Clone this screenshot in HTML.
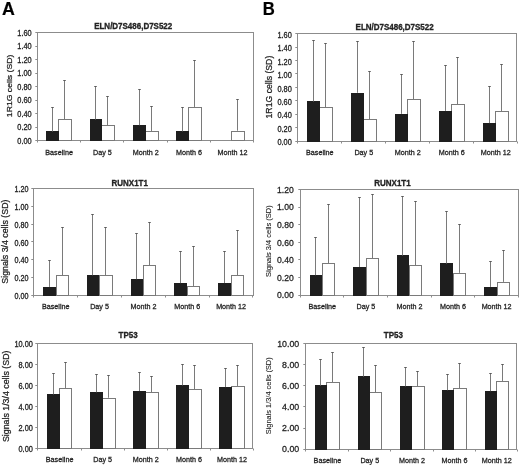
<!DOCTYPE html>
<html><head><meta charset="utf-8"><title>Figure</title>
<style>
html,body{margin:0;padding:0;background:#fff;}
body{width:520px;height:465px;overflow:hidden;font-family:"Liberation Sans", sans-serif;}
svg{display:block;will-change:transform;}
svg text{font-family:"Liberation Sans", sans-serif;stroke:#222;stroke-width:0.26px;paint-order:stroke;}
svg text.b{stroke-width:0.32px;}
svg text.t{stroke-width:0.1px;}
svg text.L{fill:#000;stroke:#000;stroke-width:0.2px;}
</style></head><body>
<svg width="520" height="465" viewBox="0 0 520 465" font-family="Liberation Sans, sans-serif" fill="#222"><rect width="520" height="465" fill="#fff"/><text transform="translate(2.1,15.1) scale(1.01,1)" font-size="17.6" font-weight="bold" class="L">A</text><text transform="translate(262.8,15) scale(0.95,1)" font-size="17.6" font-weight="bold" class="L">B</text><g id="A1"><rect x="37.5" y="32.5" width="216" height="108" fill="none" stroke="#8c8c8c"/><line x1="35.3" y1="140.5" x2="37.5" y2="140.5" stroke="#8c8c8c"/><text transform="translate(31.7,143.85) scale(1,1.15)" font-size="7.4" text-anchor="end">0.00</text><line x1="35.3" y1="127.5" x2="37.5" y2="127.5" stroke="#8c8c8c"/><text transform="translate(31.7,130.31) scale(1,1.15)" font-size="7.4" text-anchor="end">0.20</text><line x1="35.3" y1="113.5" x2="37.5" y2="113.5" stroke="#8c8c8c"/><text transform="translate(31.7,116.77) scale(1,1.15)" font-size="7.4" text-anchor="end">0.40</text><line x1="35.3" y1="100.5" x2="37.5" y2="100.5" stroke="#8c8c8c"/><text transform="translate(31.7,103.23) scale(1,1.15)" font-size="7.4" text-anchor="end">0.60</text><line x1="35.3" y1="86.5" x2="37.5" y2="86.5" stroke="#8c8c8c"/><text transform="translate(31.7,89.7) scale(1,1.15)" font-size="7.4" text-anchor="end">0.80</text><line x1="35.3" y1="73.5" x2="37.5" y2="73.5" stroke="#8c8c8c"/><text transform="translate(31.7,76.16) scale(1,1.15)" font-size="7.4" text-anchor="end">1.00</text><line x1="35.3" y1="59.5" x2="37.5" y2="59.5" stroke="#8c8c8c"/><text transform="translate(31.7,62.62) scale(1,1.15)" font-size="7.4" text-anchor="end">1.20</text><line x1="35.3" y1="46.5" x2="37.5" y2="46.5" stroke="#8c8c8c"/><text transform="translate(31.7,49.08) scale(1,1.15)" font-size="7.4" text-anchor="end">1.40</text><line x1="35.3" y1="32.5" x2="37.5" y2="32.5" stroke="#8c8c8c"/><text transform="translate(31.7,35.55) scale(1,1.15)" font-size="7.4" text-anchor="end">1.60</text><line x1="37.5" y1="140.5" x2="37.5" y2="142.5" stroke="#8c8c8c"/><line x1="80.5" y1="140.5" x2="80.5" y2="142.5" stroke="#8c8c8c"/><line x1="123.5" y1="140.5" x2="123.5" y2="142.5" stroke="#8c8c8c"/><line x1="167.5" y1="140.5" x2="167.5" y2="142.5" stroke="#8c8c8c"/><line x1="210.5" y1="140.5" x2="210.5" y2="142.5" stroke="#8c8c8c"/><line x1="253.5" y1="140.5" x2="253.5" y2="142.5" stroke="#8c8c8c"/><rect x="58.5" y="119.5" width="13" height="21" fill="#fff" stroke="#7a7a7a"/><rect x="46" y="131" width="13" height="10" fill="#1e1e1e"/><line x1="64.5" y1="119" x2="64.5" y2="80.5" stroke="#7a7a7a"/><line x1="63.25" y1="80.5" x2="65.75" y2="80.5" stroke="#5a5a5a"/><line x1="52.5" y1="131.53" x2="52.5" y2="107.5" stroke="#7a7a7a"/><line x1="51.25" y1="107.5" x2="53.75" y2="107.5" stroke="#5a5a5a"/><text transform="translate(59.1,155.1) scale(1,1.12)" font-size="7.2" text-anchor="middle">Baseline</text><rect x="101.5" y="125.5" width="13" height="15" fill="#fff" stroke="#7a7a7a"/><rect x="90" y="119" width="12" height="22" fill="#1e1e1e"/><line x1="107.5" y1="125.03" x2="107.5" y2="96.5" stroke="#7a7a7a"/><line x1="106.25" y1="96.5" x2="108.75" y2="96.5" stroke="#5a5a5a"/><line x1="95.5" y1="119.48" x2="95.5" y2="86.5" stroke="#7a7a7a"/><line x1="94.25" y1="86.5" x2="96.75" y2="86.5" stroke="#5a5a5a"/><text transform="translate(102.43,155.1) scale(1,1.12)" font-size="7.2" text-anchor="middle">Day 5</text><rect x="145.5" y="131.5" width="13" height="9" fill="#fff" stroke="#7a7a7a"/><rect x="133" y="125" width="13" height="16" fill="#1e1e1e"/><line x1="151.5" y1="130.99" x2="151.5" y2="106.5" stroke="#7a7a7a"/><line x1="150.25" y1="106.5" x2="152.75" y2="106.5" stroke="#5a5a5a"/><line x1="139.5" y1="125.23" x2="139.5" y2="89.5" stroke="#7a7a7a"/><line x1="138.25" y1="89.5" x2="140.75" y2="89.5" stroke="#5a5a5a"/><text transform="translate(145.76,155.1) scale(1,1.12)" font-size="7.2" text-anchor="middle">Month 2</text><rect x="188.5" y="107.5" width="13" height="33" fill="#fff" stroke="#7a7a7a"/><rect x="176" y="131" width="13" height="10" fill="#1e1e1e"/><line x1="194.5" y1="106.96" x2="194.5" y2="60.5" stroke="#7a7a7a"/><line x1="193.25" y1="60.5" x2="195.75" y2="60.5" stroke="#5a5a5a"/><line x1="182.5" y1="131.39" x2="182.5" y2="107.5" stroke="#7a7a7a"/><line x1="181.25" y1="107.5" x2="183.75" y2="107.5" stroke="#5a5a5a"/><text transform="translate(189.09,155.1) scale(1,1.12)" font-size="7.2" text-anchor="middle">Month 6</text><rect x="231.5" y="131.5" width="13" height="9" fill="#fff" stroke="#7a7a7a"/><line x1="237.5" y1="130.71" x2="237.5" y2="99.5" stroke="#7a7a7a"/><line x1="236.25" y1="99.5" x2="238.75" y2="99.5" stroke="#5a5a5a"/><text transform="translate(232.42,155.1) scale(1,1.12)" font-size="7.2" text-anchor="middle">Month 12</text><text transform="translate(133.2,29) scale(0.9,1)" font-size="8.88888888888889" text-anchor="middle" font-weight="bold" class="b">ELN/D7S486,D7S522</text><text transform="translate(11.7,85.9) rotate(-90) scale(1.07,1)" font-size="8.1" text-anchor="middle">1R1G cells (SD)</text></g><g id="A2"><rect x="33.5" y="188.5" width="220" height="107" fill="none" stroke="#8c8c8c"/><line x1="31.3" y1="295.5" x2="33.5" y2="295.5" stroke="#8c8c8c"/><text transform="translate(28.5,298.76) scale(1,1.15)" font-size="7.2" text-anchor="end">0.00</text><line x1="31.3" y1="277.5" x2="33.5" y2="277.5" stroke="#8c8c8c"/><text transform="translate(28.5,281.05) scale(1,1.15)" font-size="7.2" text-anchor="end">0.20</text><line x1="31.3" y1="259.5" x2="33.5" y2="259.5" stroke="#8c8c8c"/><text transform="translate(28.5,263.33) scale(1,1.15)" font-size="7.2" text-anchor="end">0.40</text><line x1="31.3" y1="241.5" x2="33.5" y2="241.5" stroke="#8c8c8c"/><text transform="translate(28.5,245.61) scale(1,1.15)" font-size="7.2" text-anchor="end">0.60</text><line x1="31.3" y1="224.5" x2="33.5" y2="224.5" stroke="#8c8c8c"/><text transform="translate(28.5,227.9) scale(1,1.15)" font-size="7.2" text-anchor="end">0.80</text><line x1="31.3" y1="206.5" x2="33.5" y2="206.5" stroke="#8c8c8c"/><text transform="translate(28.5,210.18) scale(1,1.15)" font-size="7.2" text-anchor="end">1.00</text><line x1="31.3" y1="188.5" x2="33.5" y2="188.5" stroke="#8c8c8c"/><text transform="translate(28.5,192.46) scale(1,1.15)" font-size="7.2" text-anchor="end">1.20</text><line x1="33.5" y1="295.5" x2="33.5" y2="297.5" stroke="#8c8c8c"/><line x1="77.5" y1="295.5" x2="77.5" y2="297.5" stroke="#8c8c8c"/><line x1="121.5" y1="295.5" x2="121.5" y2="297.5" stroke="#8c8c8c"/><line x1="165.5" y1="295.5" x2="165.5" y2="297.5" stroke="#8c8c8c"/><line x1="209.5" y1="295.5" x2="209.5" y2="297.5" stroke="#8c8c8c"/><line x1="252.5" y1="295.5" x2="252.5" y2="297.5" stroke="#8c8c8c"/><rect x="56.5" y="275.5" width="12" height="20" fill="#fff" stroke="#7a7a7a"/><rect x="43" y="287" width="13" height="9" fill="#1e1e1e"/><line x1="62.5" y1="275.08" x2="62.5" y2="227.5" stroke="#7a7a7a"/><line x1="61.25" y1="227.5" x2="63.75" y2="227.5" stroke="#5a5a5a"/><line x1="49.5" y1="286.95" x2="49.5" y2="260.5" stroke="#7a7a7a"/><line x1="48.25" y1="260.5" x2="50.75" y2="260.5" stroke="#5a5a5a"/><text transform="translate(55.7,308.75) scale(1,1.12)" font-size="7.2" text-anchor="middle">Baseline</text><rect x="99.5" y="275.5" width="13" height="20" fill="#fff" stroke="#7a7a7a"/><rect x="87" y="275" width="12" height="21" fill="#1e1e1e"/><line x1="105.5" y1="275.08" x2="105.5" y2="227.5" stroke="#7a7a7a"/><line x1="104.25" y1="227.5" x2="106.75" y2="227.5" stroke="#5a5a5a"/><line x1="92.5" y1="275.26" x2="92.5" y2="214.5" stroke="#7a7a7a"/><line x1="91.25" y1="214.5" x2="93.75" y2="214.5" stroke="#5a5a5a"/><text transform="translate(99.55,308.75) scale(1,1.12)" font-size="7.2" text-anchor="middle">Day 5</text><rect x="143.5" y="265.5" width="12" height="30" fill="#fff" stroke="#7a7a7a"/><rect x="131" y="279" width="12" height="17" fill="#1e1e1e"/><line x1="149.5" y1="265.42" x2="149.5" y2="222.5" stroke="#7a7a7a"/><line x1="148.25" y1="222.5" x2="150.75" y2="222.5" stroke="#5a5a5a"/><line x1="136.5" y1="279.24" x2="136.5" y2="233.5" stroke="#7a7a7a"/><line x1="135.25" y1="233.5" x2="137.75" y2="233.5" stroke="#5a5a5a"/><text transform="translate(143.4,308.75) scale(1,1.12)" font-size="7.2" text-anchor="middle">Month 2</text><rect x="187.5" y="286.5" width="12" height="9" fill="#fff" stroke="#7a7a7a"/><rect x="174" y="283" width="13" height="13" fill="#1e1e1e"/><line x1="193.5" y1="285.98" x2="193.5" y2="246.5" stroke="#7a7a7a"/><line x1="192.25" y1="246.5" x2="194.75" y2="246.5" stroke="#5a5a5a"/><line x1="180.5" y1="283.14" x2="180.5" y2="251.5" stroke="#7a7a7a"/><line x1="179.25" y1="251.5" x2="181.75" y2="251.5" stroke="#5a5a5a"/><text transform="translate(187.25,308.75) scale(1,1.12)" font-size="7.2" text-anchor="middle">Month 6</text><rect x="231.5" y="275.5" width="12" height="20" fill="#fff" stroke="#7a7a7a"/><rect x="218" y="283" width="13" height="13" fill="#1e1e1e"/><line x1="237.5" y1="275.61" x2="237.5" y2="230.5" stroke="#7a7a7a"/><line x1="236.25" y1="230.5" x2="238.75" y2="230.5" stroke="#5a5a5a"/><line x1="224.5" y1="283.05" x2="224.5" y2="251.5" stroke="#7a7a7a"/><line x1="223.25" y1="251.5" x2="225.75" y2="251.5" stroke="#5a5a5a"/><text transform="translate(231.1,308.75) scale(1,1.12)" font-size="7.2" text-anchor="middle">Month 12</text><text transform="translate(129.7,185.8) scale(0.9,1)" font-size="8.88888888888889" text-anchor="middle" font-weight="bold" class="b">RUNX1T1</text><text transform="translate(8.4,241.6) rotate(-90)" font-size="8.8" text-anchor="middle">Signals 3/4 cells (SD)</text></g><g id="A3"><rect x="37.5" y="343.5" width="215" height="105" fill="none" stroke="#8c8c8c"/><line x1="35.3" y1="448.5" x2="37.5" y2="448.5" stroke="#8c8c8c"/><text transform="translate(32.9,451.85) scale(1,1.15)" font-size="7.4" text-anchor="end">0.00</text><line x1="35.3" y1="427.5" x2="37.5" y2="427.5" stroke="#8c8c8c"/><text transform="translate(32.9,430.83) scale(1,1.15)" font-size="7.4" text-anchor="end">2.00</text><line x1="35.3" y1="406.5" x2="37.5" y2="406.5" stroke="#8c8c8c"/><text transform="translate(32.9,409.81) scale(1,1.15)" font-size="7.4" text-anchor="end">4.00</text><line x1="35.3" y1="385.5" x2="37.5" y2="385.5" stroke="#8c8c8c"/><text transform="translate(32.9,388.79) scale(1,1.15)" font-size="7.4" text-anchor="end">6.00</text><line x1="35.3" y1="364.5" x2="37.5" y2="364.5" stroke="#8c8c8c"/><text transform="translate(32.9,367.77) scale(1,1.15)" font-size="7.4" text-anchor="end">8.00</text><line x1="35.3" y1="343.5" x2="37.5" y2="343.5" stroke="#8c8c8c"/><text transform="translate(32.9,346.75) scale(1,1.15)" font-size="7.4" text-anchor="end">10.00</text><line x1="37.5" y1="448.5" x2="37.5" y2="450.5" stroke="#8c8c8c"/><line x1="81.5" y1="448.5" x2="81.5" y2="450.5" stroke="#8c8c8c"/><line x1="124.5" y1="448.5" x2="124.5" y2="450.5" stroke="#8c8c8c"/><line x1="167.5" y1="448.5" x2="167.5" y2="450.5" stroke="#8c8c8c"/><line x1="210.5" y1="448.5" x2="210.5" y2="450.5" stroke="#8c8c8c"/><line x1="253.5" y1="448.5" x2="253.5" y2="450.5" stroke="#8c8c8c"/><rect x="59.5" y="388.5" width="12" height="60" fill="#fff" stroke="#7a7a7a"/><rect x="47" y="394" width="13" height="55" fill="#1e1e1e"/><line x1="65.5" y1="387.96" x2="65.5" y2="362.5" stroke="#7a7a7a"/><line x1="64.25" y1="362.5" x2="66.75" y2="362.5" stroke="#5a5a5a"/><line x1="53.5" y1="394.37" x2="53.5" y2="373.5" stroke="#7a7a7a"/><line x1="52.25" y1="373.5" x2="54.75" y2="373.5" stroke="#5a5a5a"/><text transform="translate(59.6,462.3) scale(1,1.12)" font-size="7.2" text-anchor="middle">Baseline</text><rect x="102.5" y="398.5" width="13" height="50" fill="#fff" stroke="#7a7a7a"/><rect x="90" y="392" width="13" height="57" fill="#1e1e1e"/><line x1="108.5" y1="397.74" x2="108.5" y2="375.5" stroke="#7a7a7a"/><line x1="107.25" y1="375.5" x2="109.75" y2="375.5" stroke="#5a5a5a"/><line x1="96.5" y1="392.27" x2="96.5" y2="374.5" stroke="#7a7a7a"/><line x1="95.25" y1="374.5" x2="97.75" y2="374.5" stroke="#5a5a5a"/><text transform="translate(102.7,462.3) scale(1,1.12)" font-size="7.2" text-anchor="middle">Day 5</text><rect x="145.5" y="392.5" width="13" height="56" fill="#fff" stroke="#7a7a7a"/><rect x="133" y="391" width="13" height="58" fill="#1e1e1e"/><line x1="151.5" y1="392.38" x2="151.5" y2="376.5" stroke="#7a7a7a"/><line x1="150.25" y1="376.5" x2="152.75" y2="376.5" stroke="#5a5a5a"/><line x1="139.5" y1="391.01" x2="139.5" y2="372.5" stroke="#7a7a7a"/><line x1="138.25" y1="372.5" x2="140.75" y2="372.5" stroke="#5a5a5a"/><text transform="translate(145.8,462.3) scale(1,1.12)" font-size="7.2" text-anchor="middle">Month 2</text><rect x="188.5" y="389.5" width="13" height="59" fill="#fff" stroke="#7a7a7a"/><rect x="176" y="385" width="13" height="64" fill="#1e1e1e"/><line x1="194.5" y1="389.12" x2="194.5" y2="365.5" stroke="#7a7a7a"/><line x1="193.25" y1="365.5" x2="195.75" y2="365.5" stroke="#5a5a5a"/><line x1="182.5" y1="385.33" x2="182.5" y2="364.5" stroke="#7a7a7a"/><line x1="181.25" y1="364.5" x2="183.75" y2="364.5" stroke="#5a5a5a"/><text transform="translate(188.9,462.3) scale(1,1.12)" font-size="7.2" text-anchor="middle">Month 6</text><rect x="231.5" y="386.5" width="13" height="62" fill="#fff" stroke="#7a7a7a"/><rect x="219" y="387" width="13" height="62" fill="#1e1e1e"/><line x1="237.5" y1="385.97" x2="237.5" y2="365.5" stroke="#7a7a7a"/><line x1="236.25" y1="365.5" x2="238.75" y2="365.5" stroke="#5a5a5a"/><line x1="225.5" y1="387.12" x2="225.5" y2="368.5" stroke="#7a7a7a"/><line x1="224.25" y1="368.5" x2="226.75" y2="368.5" stroke="#5a5a5a"/><text transform="translate(232,462.3) scale(1,1.12)" font-size="7.2" text-anchor="middle">Month 12</text><text transform="translate(128.1,337.9) scale(0.9,1)" font-size="8.88888888888889" text-anchor="middle" font-weight="bold" class="b">TP53</text><text transform="translate(8.7,396.3) rotate(-90)" font-size="8.8" text-anchor="middle">Signals 1/3/4 cells (SD)</text></g><g id="B1"><rect x="297.5" y="33.5" width="219" height="108" fill="none" stroke="#8c8c8c"/><line x1="295.3" y1="141.5" x2="297.5" y2="141.5" stroke="#8c8c8c"/><text transform="translate(291.8,145.25) scale(1,1.15)" font-size="7.4" text-anchor="end">0.00</text><line x1="295.3" y1="127.5" x2="297.5" y2="127.5" stroke="#8c8c8c"/><text transform="translate(291.8,131.82) scale(1,1.15)" font-size="7.4" text-anchor="end">0.20</text><line x1="295.3" y1="114.5" x2="297.5" y2="114.5" stroke="#8c8c8c"/><text transform="translate(291.8,118.4) scale(1,1.15)" font-size="7.4" text-anchor="end">0.40</text><line x1="295.3" y1="100.5" x2="297.5" y2="100.5" stroke="#8c8c8c"/><text transform="translate(291.8,104.97) scale(1,1.15)" font-size="7.4" text-anchor="end">0.60</text><line x1="295.3" y1="87.5" x2="297.5" y2="87.5" stroke="#8c8c8c"/><text transform="translate(291.8,91.55) scale(1,1.15)" font-size="7.4" text-anchor="end">0.80</text><line x1="295.3" y1="73.5" x2="297.5" y2="73.5" stroke="#8c8c8c"/><text transform="translate(291.8,78.12) scale(1,1.15)" font-size="7.4" text-anchor="end">1.00</text><line x1="295.3" y1="60.5" x2="297.5" y2="60.5" stroke="#8c8c8c"/><text transform="translate(291.8,64.7) scale(1,1.15)" font-size="7.4" text-anchor="end">1.20</text><line x1="295.3" y1="47.5" x2="297.5" y2="47.5" stroke="#8c8c8c"/><text transform="translate(291.8,51.27) scale(1,1.15)" font-size="7.4" text-anchor="end">1.40</text><line x1="295.3" y1="33.5" x2="297.5" y2="33.5" stroke="#8c8c8c"/><text transform="translate(291.8,37.85) scale(1,1.15)" font-size="7.4" text-anchor="end">1.60</text><line x1="297.5" y1="141.5" x2="297.5" y2="143.5" stroke="#8c8c8c"/><line x1="341.5" y1="141.5" x2="341.5" y2="143.5" stroke="#8c8c8c"/><line x1="385.5" y1="141.5" x2="385.5" y2="143.5" stroke="#8c8c8c"/><line x1="429.5" y1="141.5" x2="429.5" y2="143.5" stroke="#8c8c8c"/><line x1="473.5" y1="141.5" x2="473.5" y2="143.5" stroke="#8c8c8c"/><line x1="517.5" y1="141.5" x2="517.5" y2="143.5" stroke="#8c8c8c"/><rect x="319.5" y="107.5" width="13" height="34" fill="#fff" stroke="#7a7a7a"/><rect x="307" y="101" width="13" height="41" fill="#1e1e1e"/><line x1="325.5" y1="107.54" x2="325.5" y2="43.5" stroke="#7a7a7a"/><line x1="324.25" y1="43.5" x2="326.75" y2="43.5" stroke="#5a5a5a"/><line x1="313.5" y1="101.5" x2="313.5" y2="40.5" stroke="#7a7a7a"/><line x1="312.25" y1="40.5" x2="314.75" y2="40.5" stroke="#5a5a5a"/><text transform="translate(319.8,155.1) scale(1,1.12)" font-size="7.2" text-anchor="middle">Baseline</text><rect x="363.5" y="119.5" width="13" height="22" fill="#fff" stroke="#7a7a7a"/><rect x="351" y="93" width="13" height="49" fill="#1e1e1e"/><line x1="369.5" y1="119.28" x2="369.5" y2="71.5" stroke="#7a7a7a"/><line x1="368.25" y1="71.5" x2="370.75" y2="71.5" stroke="#5a5a5a"/><line x1="357.5" y1="92.77" x2="357.5" y2="41.5" stroke="#7a7a7a"/><line x1="356.25" y1="41.5" x2="358.75" y2="41.5" stroke="#5a5a5a"/><text transform="translate(363.81,155.1) scale(1,1.12)" font-size="7.2" text-anchor="middle">Day 5</text><rect x="407.5" y="99.5" width="13" height="42" fill="#fff" stroke="#7a7a7a"/><rect x="395" y="114" width="13" height="28" fill="#1e1e1e"/><line x1="413.5" y1="99.48" x2="413.5" y2="41.5" stroke="#7a7a7a"/><line x1="412.25" y1="41.5" x2="414.75" y2="41.5" stroke="#5a5a5a"/><line x1="401.5" y1="113.85" x2="401.5" y2="74.5" stroke="#7a7a7a"/><line x1="400.25" y1="74.5" x2="402.75" y2="74.5" stroke="#5a5a5a"/><text transform="translate(407.82,155.1) scale(1,1.12)" font-size="7.2" text-anchor="middle">Month 2</text><rect x="451.5" y="104.5" width="13" height="37" fill="#fff" stroke="#7a7a7a"/><rect x="439" y="111" width="13" height="31" fill="#1e1e1e"/><line x1="457.5" y1="104.32" x2="457.5" y2="57.5" stroke="#7a7a7a"/><line x1="456.25" y1="57.5" x2="458.75" y2="57.5" stroke="#5a5a5a"/><line x1="445.5" y1="110.89" x2="445.5" y2="65.5" stroke="#7a7a7a"/><line x1="444.25" y1="65.5" x2="446.75" y2="65.5" stroke="#5a5a5a"/><text transform="translate(451.83,155.1) scale(1,1.12)" font-size="7.2" text-anchor="middle">Month 6</text><rect x="495.5" y="111.5" width="13" height="30" fill="#fff" stroke="#7a7a7a"/><rect x="483" y="123" width="13" height="19" fill="#1e1e1e"/><line x1="501.5" y1="111.3" x2="501.5" y2="64.5" stroke="#7a7a7a"/><line x1="500.25" y1="64.5" x2="502.75" y2="64.5" stroke="#5a5a5a"/><line x1="489.5" y1="123.11" x2="489.5" y2="86.5" stroke="#7a7a7a"/><line x1="488.25" y1="86.5" x2="490.75" y2="86.5" stroke="#5a5a5a"/><text transform="translate(495.84,155.1) scale(1,1.12)" font-size="7.2" text-anchor="middle">Month 12</text><text transform="translate(394.6,30.1) scale(0.9,1)" font-size="8.88888888888889" text-anchor="middle" font-weight="bold" class="b">ELN/D7S486,D7S522</text><text transform="translate(272.3,87.1) rotate(-90)" font-size="8.7" text-anchor="middle">1R1G cells (SD)</text></g><g id="B2"><rect x="300.5" y="189.5" width="218" height="106" fill="none" stroke="#8c8c8c"/><line x1="298.3" y1="295.5" x2="300.5" y2="295.5" stroke="#8c8c8c"/><text transform="translate(293.8,298.43) scale(1,1.05)" font-size="8.6" text-anchor="end">0.00</text><line x1="298.3" y1="277.5" x2="300.5" y2="277.5" stroke="#8c8c8c"/><text transform="translate(293.8,280.82) scale(1,1.05)" font-size="8.6" text-anchor="end">0.20</text><line x1="298.3" y1="259.5" x2="300.5" y2="259.5" stroke="#8c8c8c"/><text transform="translate(293.8,263.2) scale(1,1.05)" font-size="8.6" text-anchor="end">0.40</text><line x1="298.3" y1="242.5" x2="300.5" y2="242.5" stroke="#8c8c8c"/><text transform="translate(293.8,245.58) scale(1,1.05)" font-size="8.6" text-anchor="end">0.60</text><line x1="298.3" y1="224.5" x2="300.5" y2="224.5" stroke="#8c8c8c"/><text transform="translate(293.8,227.97) scale(1,1.05)" font-size="8.6" text-anchor="end">0.80</text><line x1="298.3" y1="207.5" x2="300.5" y2="207.5" stroke="#8c8c8c"/><text transform="translate(293.8,210.35) scale(1,1.05)" font-size="8.6" text-anchor="end">1.00</text><line x1="298.3" y1="189.5" x2="300.5" y2="189.5" stroke="#8c8c8c"/><text transform="translate(293.8,192.73) scale(1,1.05)" font-size="8.6" text-anchor="end">1.20</text><line x1="300.5" y1="295.5" x2="300.5" y2="297.5" stroke="#8c8c8c"/><line x1="343.5" y1="295.5" x2="343.5" y2="297.5" stroke="#8c8c8c"/><line x1="387.5" y1="295.5" x2="387.5" y2="297.5" stroke="#8c8c8c"/><line x1="431.5" y1="295.5" x2="431.5" y2="297.5" stroke="#8c8c8c"/><line x1="474.5" y1="295.5" x2="474.5" y2="297.5" stroke="#8c8c8c"/><line x1="518.5" y1="295.5" x2="518.5" y2="297.5" stroke="#8c8c8c"/><rect x="322.5" y="263.5" width="12" height="32" fill="#fff" stroke="#7a7a7a"/><rect x="310" y="275" width="12" height="21" fill="#1e1e1e"/><line x1="328.5" y1="263.14" x2="328.5" y2="204.5" stroke="#7a7a7a"/><line x1="327.25" y1="204.5" x2="329.75" y2="204.5" stroke="#5a5a5a"/><line x1="315.5" y1="275.21" x2="315.5" y2="237.5" stroke="#7a7a7a"/><line x1="314.25" y1="237.5" x2="316.75" y2="237.5" stroke="#5a5a5a"/><text transform="translate(322.3,309.4) scale(1,1.12)" font-size="7.2" text-anchor="middle">Baseline</text><rect x="366.5" y="258.5" width="12" height="37" fill="#fff" stroke="#7a7a7a"/><rect x="353" y="267" width="13" height="29" fill="#1e1e1e"/><line x1="372.5" y1="258.65" x2="372.5" y2="194.5" stroke="#7a7a7a"/><line x1="371.25" y1="194.5" x2="373.75" y2="194.5" stroke="#5a5a5a"/><line x1="359.5" y1="267.01" x2="359.5" y2="197.5" stroke="#7a7a7a"/><line x1="358.25" y1="197.5" x2="360.75" y2="197.5" stroke="#5a5a5a"/><text transform="translate(365.88,309.4) scale(1,1.12)" font-size="7.2" text-anchor="middle">Day 5</text><rect x="409.5" y="265.5" width="12" height="30" fill="#fff" stroke="#7a7a7a"/><rect x="397" y="255" width="12" height="41" fill="#1e1e1e"/><line x1="415.5" y1="265.34" x2="415.5" y2="201.5" stroke="#7a7a7a"/><line x1="414.25" y1="201.5" x2="416.75" y2="201.5" stroke="#5a5a5a"/><line x1="402.5" y1="255.47" x2="402.5" y2="196.5" stroke="#7a7a7a"/><line x1="401.25" y1="196.5" x2="403.75" y2="196.5" stroke="#5a5a5a"/><text transform="translate(409.45,309.4) scale(1,1.12)" font-size="7.2" text-anchor="middle">Month 2</text><rect x="453.5" y="273.5" width="12" height="22" fill="#fff" stroke="#7a7a7a"/><rect x="440" y="263" width="13" height="33" fill="#1e1e1e"/><line x1="459.5" y1="272.83" x2="459.5" y2="224.5" stroke="#7a7a7a"/><line x1="458.25" y1="224.5" x2="460.75" y2="224.5" stroke="#5a5a5a"/><line x1="446.5" y1="263.49" x2="446.5" y2="211.5" stroke="#7a7a7a"/><line x1="445.25" y1="211.5" x2="447.75" y2="211.5" stroke="#5a5a5a"/><text transform="translate(453.03,309.4) scale(1,1.12)" font-size="7.2" text-anchor="middle">Month 6</text><rect x="497.5" y="282.5" width="12" height="13" fill="#fff" stroke="#7a7a7a"/><rect x="484" y="287" width="13" height="9" fill="#1e1e1e"/><line x1="503.5" y1="281.9" x2="503.5" y2="250.5" stroke="#7a7a7a"/><line x1="502.25" y1="250.5" x2="504.75" y2="250.5" stroke="#5a5a5a"/><line x1="490.5" y1="286.92" x2="490.5" y2="261.5" stroke="#7a7a7a"/><line x1="489.25" y1="261.5" x2="491.75" y2="261.5" stroke="#5a5a5a"/><text transform="translate(496.6,309.4) scale(1,1.12)" font-size="7.2" text-anchor="middle">Month 12</text><text transform="translate(392.45,185.8) scale(0.9,1)" font-size="8.88888888888889" text-anchor="middle" font-weight="bold" class="b">RUNX1T1</text><text transform="translate(271,241.1) rotate(-90)" font-size="7.5" text-anchor="middle" class="t">Signals 3/4 cells (SD)</text></g><g id="B3"><rect x="305.5" y="343.5" width="211" height="106" fill="none" stroke="#8c8c8c"/><line x1="303.3" y1="449.5" x2="305.5" y2="449.5" stroke="#8c8c8c"/><text transform="translate(299.2,452.05)" font-size="8.8" text-anchor="end">0.00</text><line x1="303.3" y1="428.5" x2="305.5" y2="428.5" stroke="#8c8c8c"/><text transform="translate(299.2,430.99)" font-size="8.8" text-anchor="end">2.00</text><line x1="303.3" y1="406.5" x2="305.5" y2="406.5" stroke="#8c8c8c"/><text transform="translate(299.2,409.93)" font-size="8.8" text-anchor="end">4.00</text><line x1="303.3" y1="385.5" x2="305.5" y2="385.5" stroke="#8c8c8c"/><text transform="translate(299.2,388.87)" font-size="8.8" text-anchor="end">6.00</text><line x1="303.3" y1="364.5" x2="305.5" y2="364.5" stroke="#8c8c8c"/><text transform="translate(299.2,367.81)" font-size="8.8" text-anchor="end">8.00</text><line x1="303.3" y1="343.5" x2="305.5" y2="343.5" stroke="#8c8c8c"/><text transform="translate(299.2,346.75)" font-size="8.8" text-anchor="end">10.00</text><line x1="305.5" y1="449.5" x2="305.5" y2="451.5" stroke="#8c8c8c"/><line x1="348.5" y1="449.5" x2="348.5" y2="451.5" stroke="#8c8c8c"/><line x1="390.5" y1="449.5" x2="390.5" y2="451.5" stroke="#8c8c8c"/><line x1="433.5" y1="449.5" x2="433.5" y2="451.5" stroke="#8c8c8c"/><line x1="475.5" y1="449.5" x2="475.5" y2="451.5" stroke="#8c8c8c"/><line x1="517.5" y1="449.5" x2="517.5" y2="451.5" stroke="#8c8c8c"/><rect x="326.5" y="382.5" width="13" height="67" fill="#fff" stroke="#7a7a7a"/><rect x="315" y="385" width="12" height="65" fill="#1e1e1e"/><line x1="332.5" y1="382.45" x2="332.5" y2="352.5" stroke="#7a7a7a"/><line x1="331.25" y1="352.5" x2="333.75" y2="352.5" stroke="#5a5a5a"/><line x1="320.5" y1="385.5" x2="320.5" y2="359.5" stroke="#7a7a7a"/><line x1="319.25" y1="359.5" x2="321.75" y2="359.5" stroke="#5a5a5a"/><text transform="translate(327.4,462.8) scale(1,1.12)" font-size="7.2" text-anchor="middle">Baseline</text><rect x="369.5" y="392.5" width="12" height="57" fill="#fff" stroke="#7a7a7a"/><rect x="358" y="376" width="12" height="74" fill="#1e1e1e"/><line x1="375.5" y1="392.24" x2="375.5" y2="365.5" stroke="#7a7a7a"/><line x1="374.25" y1="365.5" x2="376.75" y2="365.5" stroke="#5a5a5a"/><line x1="363.5" y1="376.55" x2="363.5" y2="347.5" stroke="#7a7a7a"/><line x1="362.25" y1="347.5" x2="364.75" y2="347.5" stroke="#5a5a5a"/><text transform="translate(369.75,462.8) scale(1,1.12)" font-size="7.2" text-anchor="middle">Day 5</text><rect x="411.5" y="386.5" width="13" height="63" fill="#fff" stroke="#7a7a7a"/><rect x="400" y="386" width="12" height="64" fill="#1e1e1e"/><line x1="417.5" y1="386.34" x2="417.5" y2="371.5" stroke="#7a7a7a"/><line x1="416.25" y1="371.5" x2="418.75" y2="371.5" stroke="#5a5a5a"/><line x1="405.5" y1="386.34" x2="405.5" y2="367.5" stroke="#7a7a7a"/><line x1="404.25" y1="367.5" x2="406.75" y2="367.5" stroke="#5a5a5a"/><text transform="translate(412.1,462.8) scale(1,1.12)" font-size="7.2" text-anchor="middle">Month 2</text><rect x="453.5" y="388.5" width="13" height="61" fill="#fff" stroke="#7a7a7a"/><rect x="442" y="390" width="12" height="60" fill="#1e1e1e"/><line x1="459.5" y1="388.45" x2="459.5" y2="363.5" stroke="#7a7a7a"/><line x1="458.25" y1="363.5" x2="460.75" y2="363.5" stroke="#5a5a5a"/><line x1="447.5" y1="390.24" x2="447.5" y2="374.5" stroke="#7a7a7a"/><line x1="446.25" y1="374.5" x2="448.75" y2="374.5" stroke="#5a5a5a"/><text transform="translate(454.45,462.8) scale(1,1.12)" font-size="7.2" text-anchor="middle">Month 6</text><rect x="496.5" y="381.5" width="12" height="68" fill="#fff" stroke="#7a7a7a"/><rect x="485" y="391" width="12" height="59" fill="#1e1e1e"/><line x1="502.5" y1="380.97" x2="502.5" y2="364.5" stroke="#7a7a7a"/><line x1="501.25" y1="364.5" x2="503.75" y2="364.5" stroke="#5a5a5a"/><line x1="490.5" y1="391.19" x2="490.5" y2="373.5" stroke="#7a7a7a"/><line x1="489.25" y1="373.5" x2="491.75" y2="373.5" stroke="#5a5a5a"/><text transform="translate(496.8,462.8) scale(1,1.12)" font-size="7.2" text-anchor="middle">Month 12</text><text transform="translate(393.4,337.5) scale(0.9,1)" font-size="8.88888888888889" text-anchor="middle" font-weight="bold" class="b">TP53</text><text transform="translate(271.4,395.8) rotate(-90)" font-size="7.4" text-anchor="middle" class="t">Signals 1/3/4 cells (SD)</text></g></svg>
</body></html>
